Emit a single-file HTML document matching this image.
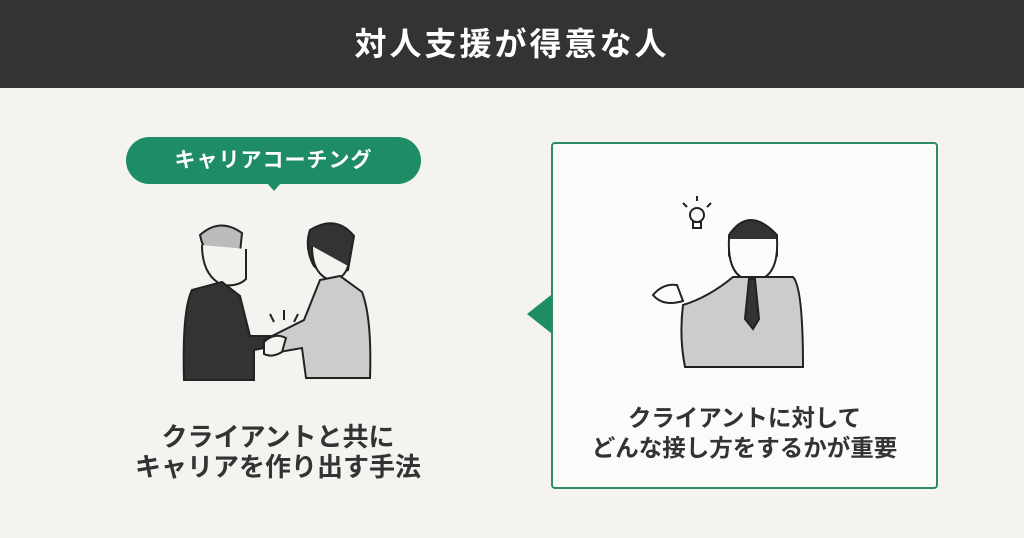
<!DOCTYPE html>
<html><head><meta charset="utf-8"><style>
body{margin:0;width:1024px;height:538px;background:#f4f3f0;position:relative;overflow:hidden;font-family:"Liberation Sans","Noto Sans CJK JP",sans-serif;color:#333}
.hd{position:absolute;left:0;top:0;width:1024px;height:88px;background:#333;color:#fff;font-weight:bold;font-size:32px;text-align:center;line-height:88px;letter-spacing:3px}
.pill{position:absolute;left:126px;top:137px;width:295px;height:47px;border-radius:24px;background:#1e8c64;color:#fff;font-weight:bold;font-size:21px;text-align:center;line-height:47px;letter-spacing:1px}
.pill:after{content:"";position:absolute;left:141px;top:46px;border:7px solid transparent;border-top:8px solid #1e8c64}
.lt{position:absolute;left:100px;width:356px;top:422px;text-align:center;font-weight:bold;font-size:26px;line-height:30px}
.box{position:absolute;left:551px;top:142px;width:383px;height:343px;border:2px solid #2e8c65;border-radius:4px;background:#fbfbfa}
.tri{position:absolute;left:527px;top:295px;border-right:24px solid #1e8c64;border-top:19px solid transparent;border-bottom:19px solid transparent}
.rt{position:absolute;left:551px;width:387px;top:403px;text-align:center;font-weight:bold;font-size:23.5px;line-height:30px}
</style></head><body>
<div class="hd">対人支援が得意な人</div>
<div class="pill">キャリアコーチング</div>
<svg style="position:absolute;left:170px;top:210px" width="220" height="175" viewBox="0 0 220 175" fill="none" stroke="#222" stroke-width="2">
<path d="M30 25 q20-18 42-2 l-2 20 q-10 0-14 6 l-8 4 q-14-8-18-28z" fill="#bbb"/>
<path d="M32 35 q0 30 20 40 q16 2 24-6 l0-30" fill="#f4f3f0"/>
<path d="M22 80 q-10 20-8 90 l70 0 l0-30 l30-6 l0-8 l-34 0 l-10-40 l-18-14z" fill="#333"/>
<path d="M140 20 q26-16 44 6 l-6 34 q-20 10-34-4 q-10-18-4-36z" fill="#333"/>
<path d="M142 36 q0 28 18 34 q14 0 18-14" fill="#f4f3f0"/>
<path d="M150 70 l-16 40 l-40 20 l4 14 l34-6 l4 30 l64 0 q2-60-8-86 l-22-16z" fill="#ccc"/>
<path d="M94 132 q10-10 22-4 l-4 14 q-10 6-18 2z" fill="#f4f3f0"/>
<path d="M104 112 l-4 -8 M114 110 l0-10 M124 112 l4-8"/>
</svg>
<div class="lt">クライアントと共に<br>キャリアを作り出す手法</div>
<div class="tri"></div>
<div class="box"></div>
<svg style="position:absolute;left:645px;top:195px" width="170" height="175" viewBox="0 0 170 175" fill="none" stroke="#222" stroke-width="2">
<circle cx="52" cy="20" r="7"/><path d="M48 27 l8 0 l0 6 l-8 0z M42 12 l-4-4 M52 6 l0-5 M62 12 l4-4"/>
<path d="M84 40 q20-30 48 0 l0 20 q-24-16-48 0z" fill="#333"/>
<path d="M84 44 q-2 40 24 42 q26-2 24-42" fill="#fbfbfa"/>
<path d="M38 110 q26-8 50-28 l60 0 q10 10 10 90 l-118 0 q-6-30-2-62z" fill="#ccc"/>
<path d="M104 84 l-4 40 l8 10 l6-10 l-4-40z" fill="#333"/>
<path d="M8 100 q10-12 24-10 l6 16 q-20 6-30-6z" fill="#fbfbfa"/>
</svg>
<div class="rt">クライアントに対して<br>どんな接し方をするかが重要</div>
</body></html>
